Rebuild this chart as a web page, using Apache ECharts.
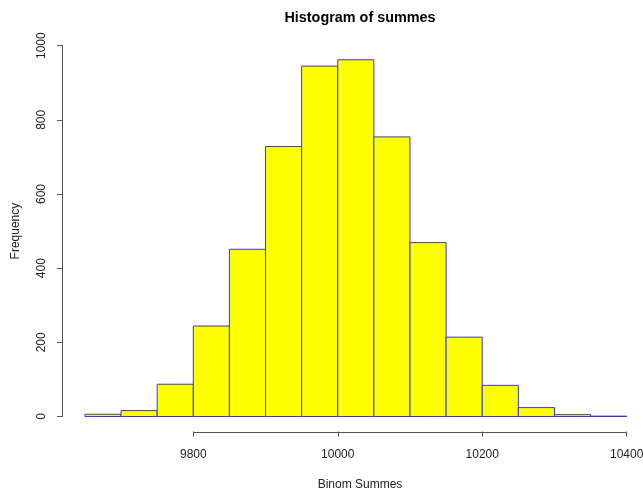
<!DOCTYPE html>
<html>
<head>
<meta charset="utf-8">
<script src="https://cdn.jsdelivr.net/npm/echarts@6/dist/echarts.min.js"></script>
<style>
  html, body { margin: 0; padding: 0; background: #ffffff; }
  #chart { width: 643px; height: 491px; }
</style>
</head>
<body>
<div id="chart"></div>
<script>
// Histogram bins (left edges) and the frequency in each bin
const binStarts = [9650, 9700, 9750, 9800, 9850, 9900, 9950, 10000, 10050, 10100, 10150, 10200, 10250, 10300, 10350];
const binWidth = 50;
const counts = [6, 16, 87, 244, 451, 728, 945, 962, 754, 469, 214, 84, 24, 5, 1];

// Axis ticks
const xTicks = [9800, 10000, 10200, 10400];
const yTicks = [0, 200, 400, 600, 800, 1000];

const titleText = 'Histogram of summes';
const xLabel = 'Binom Summes';
const yLabel = 'Frequency';

const FONT = 'Liberation Sans, Arial, sans-serif';
const AXIS_COLOR = '#555555';
const TEXT_COLOR = '#222222';
const X_AXIS_OFFSET = 15;

const bins = binStarts.map((s, i) => [s, s + binWidth, counts[i]]);
const plain = v => String(v);

const chart = echarts.init(document.getElementById('chart'), null, { renderer: 'canvas' });

chart.setOption({
  animation: false,
  backgroundColor: '#ffffff',
  title: [
    {
      text: titleText,
      left: 355,
      textAlign: 'center',
      top: 6,
      textStyle: { fontFamily: FONT, fontSize: 14.4, fontWeight: 'bold', color: '#000000' }
    },
    {
      text: xLabel,
      left: 355,
      textAlign: 'center',
      top: 474,
      textStyle: { fontFamily: FONT, fontSize: 12, fontWeight: 'normal', color: TEXT_COLOR }
    }
  ],
  grid: {
    left: 193.3, right: 16.3, top: 45.7, bottom: 74.5,
    containLabel: false,
    outerBoundsMode: 'none'
  },
  xAxis: {
    type: 'value',
    min: xTicks[0],
    max: xTicks[xTicks.length - 1],
    interval: xTicks[1] - xTicks[0],
    position: 'bottom',
    offset: X_AXIS_OFFSET,
    // the axis line only spans the tick range; it is drawn by the series below
    axisLine: { show: false, onZero: false },
    axisTick: { show: true, length: 5, lineStyle: { color: AXIS_COLOR } },
    axisLabel: { show: true, margin: 17, formatter: plain, fontFamily: FONT, fontSize: 12, color: TEXT_COLOR },
    splitLine: { show: false }
  },
  yAxis: {
    type: 'value',
    min: yTicks[0],
    max: yTicks[yTicks.length - 1],
    interval: yTicks[1] - yTicks[0],
    position: 'left',
    offset: 131.3,
    name: yLabel,
    nameLocation: 'middle',
    nameGap: 40,
    nameTextStyle: { fontFamily: FONT, fontSize: 12, color: TEXT_COLOR },
    axisLine: { show: true, onZero: false, lineStyle: { color: AXIS_COLOR, width: 1 } },
    axisTick: { show: true, length: 5, lineStyle: { color: AXIS_COLOR } },
    axisLabel: { show: true, rotate: 90, margin: 14, formatter: plain, fontFamily: FONT, fontSize: 12, color: TEXT_COLOR },
    splitLine: { show: false }
  },
  series: [
    {
      type: 'custom',
      clip: false,
      data: bins,
      encode: { x: [0, 1], y: 2 },
      renderItem: function (params, api) {
        const p0 = api.coord([api.value(0), 0]);
        const p1 = api.coord([api.value(1), api.value(2)]);
        return {
          type: 'rect',
          shape: { x: p0[0], y: p1[1], width: p1[0] - p0[0], height: p0[1] - p1[1] },
          style: { fill: '#ffff00', stroke: '#3333ff', lineWidth: 1 }
        };
      }
    },
    {
      // x axis line from the first to the last tick
      type: 'custom',
      clip: false,
      silent: true,
      data: [[xTicks[0], xTicks[xTicks.length - 1]]],
      encode: { x: [0, 1] },
      renderItem: function (params, api) {
        const a = api.coord([api.value(0), 0]);
        const b = api.coord([api.value(1), 0]);
        const y = Math.round(a[1] + X_AXIS_OFFSET) + 0.5;
        return {
          type: 'line',
          shape: { x1: a[0], y1: y, x2: b[0], y2: y },
          style: { stroke: AXIS_COLOR, lineWidth: 1 }
        };
      }
    }
  ]
});
</script>
</body>
</html>
